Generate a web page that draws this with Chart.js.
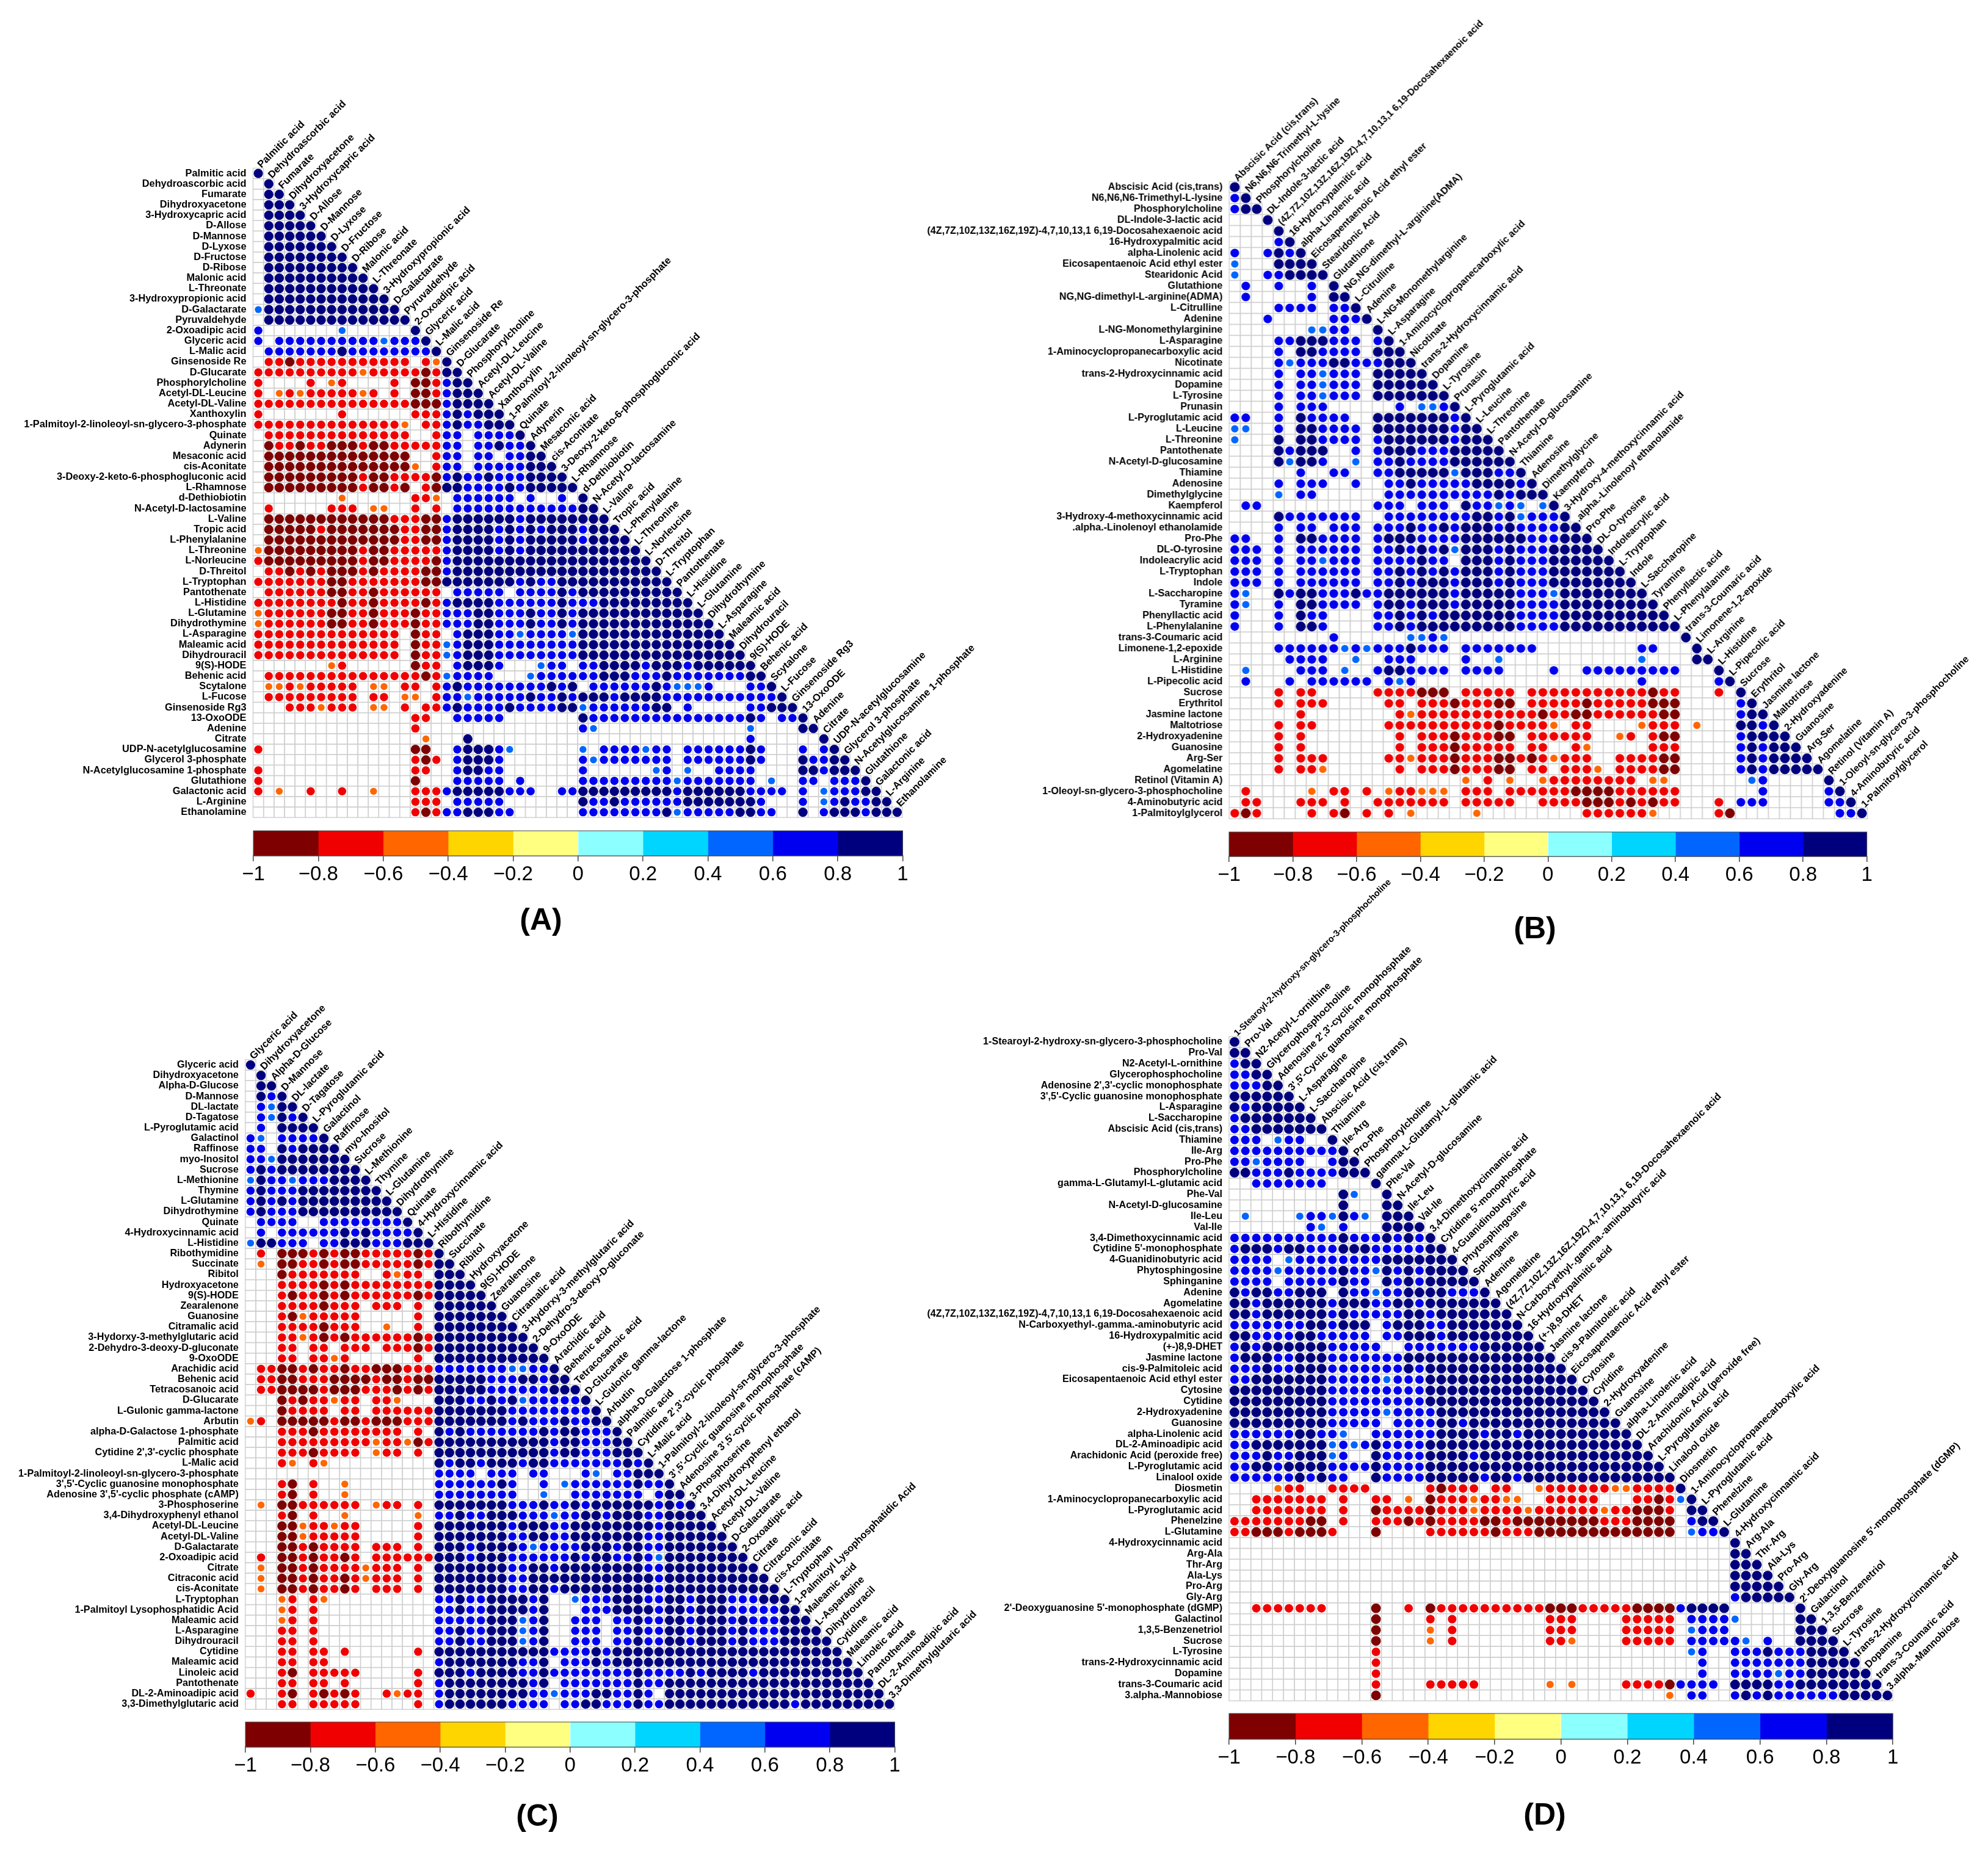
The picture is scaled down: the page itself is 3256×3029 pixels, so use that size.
<!DOCTYPE html>
<html><head><meta charset="utf-8">
<script src="https://cdn.jsdelivr.net/npm/chart.js@4/dist/chart.umd.min.js"></script>
<style>
html,body{margin:0;padding:0;background:#fff;width:3256px;height:3029px;overflow:hidden}
canvas{position:absolute;display:block}
.tag{position:absolute;font:bold 50px "Liberation Sans",Arial,sans-serif;color:#000;transform:translate(-50%,-50%);white-space:nowrap}
</style></head><body>
<script>
const labelsA=["Palmitic acid","Dehydroascorbic acid","Fumarate","Dihydroxyacetone","3-Hydroxycapric acid","D-Allose","D-Mannose","D-Lyxose","D-Fructose","D-Ribose","Malonic acid","L-Threonate","3-Hydroxypropionic acid","D-Galactarate","Pyruvaldehyde","2-Oxoadipic acid","Glyceric acid","L-Malic acid","Ginsenoside Re","D-Glucarate","Phosphorylcholine","Acetyl-DL-Leucine","Acetyl-DL-Valine","Xanthoxylin","1-Palmitoyl-2-linoleoyl-sn-glycero-3-phosphate","Quinate","Adynerin","Mesaconic acid","cis-Aconitate","3-Deoxy-2-keto-6-phosphogluconic acid","L-Rhamnose","d-Dethiobiotin","N-Acetyl-D-lactosamine","L-Valine","Tropic acid","L-Phenylalanine","L-Threonine","L-Norleucine","D-Threitol","L-Tryptophan","Pantothenate","L-Histidine","L-Glutamine","Dihydrothymine","L-Asparagine","Maleamic acid","Dihydrouracil","9(S)-HODE","Behenic acid","Scytalone","L-Fucose","Ginsenoside Rg3","13-OxoODE","Adenine","Citrate","UDP-N-acetylglucosamine","Glycerol 3-phosphate","N-Acetylglucosamine 1-phosphate","Glutathione","Galactonic acid","L-Arginine","Ethanolamine"];
const rowsA=["n",".n",".2n",".3n",".4n",".5n",".6n",".7n",".8n",".9n",".10n",".11n",".12n","l13n",".14n","b7.l6.n","b.10bl3bn",".7bn8bn",".2rd11r.ron","10ro5rdr2n","r4.r.or4.r.2drb2n","r.oro5ror.r.2drb3n","15r3db4n","r7.r6.3rbnb3n","14ro.2rbn2b3n",".14r2.r2b.4bn",".d2rd2r3dr2d5r2b.2bn2bn",".14d2.r2b.2b.2b2n",".14do.r2b.5b3n",".9dr2d4rdbn2bn3b4n",".9dr2drd.rd2n4bnb5n","8.o6.2ro.6b.b2.b.n",".r5.3r.2o2.r.r.12b2n",".12d3r2db6nb8n",".5dr7d2r2db4nbnbnb3nb3n",".13d2r2db4nbnb5nb4n","o9dr2d5rb4nbnb11n","r9dr2d4rdb19n",".2rdrdr3drd4r2db20n","7r2d7r2d7nbn2b11n",".6r2d2rd6r.5b.4bnb10n","8rd2rd4rdrb4n6bn3b9n","o6r2d2rd3rd2r3b2n3bn2bnb12n","o6r2d2rd3rd2r3b2n3bn2bnb13n","14r.d2r.b3n2bl4bl14n","14r.d2rlb3n8b15n","14r.d2rlb3n8b16n","7.or6.d2r.b3nb3.l2b.2b4nb3nb6n",".15rdrl4b3.l6b3n3bn7b2n",".2oro5r.2o.2r.rbn8bnbn.6bnb3lb3.2bn",".9r.2r.2o.r2bl5bn2bnb3nb4n11bn","3.3ro3r.2o.r.2rbn4bn4b2nl6b2n.b5.2b3n","15.2r2.5b7.n15bnb.2bn","15.r15.bl14.l4.2n","16.o3.n26.b6.n","r14.2d2.b3nbl6.l.4bl2b.6bnb3.b.bn","15.rdr.b3nb7.bl7b.6bnb3.n2b2n","r14.2r2.b2n2b7.b6.lb.l2.4b4.2nb3n","r14.d3.5b.b5.9bl7b.l2.2b.3bn","r.o2.r2.r2.o3.3rb5n3b2.2b9nb6n4b.b.l3b2n","15.3r.5b7.n2bn6b7nb3.b.lbn2b2n","15.rdr2b3n2b6.8bnl5b2n2b2.n.b3nb3n"];
const labelsB=["Abscisic Acid (cis,trans)","N6,N6,N6-Trimethyl-L-lysine","Phosphorylcholine","DL-Indole-3-lactic acid","(4Z,7Z,10Z,13Z,16Z,19Z)-4,7,10,13,1 6,19-Docosahexaenoic acid","16-Hydroxypalmitic acid","alpha-Linolenic acid","Eicosapentaenoic Acid ethyl ester","Stearidonic Acid","Glutathione","NG,NG-dimethyl-L-arginine(ADMA)","L-Citrulline","Adenine","L-NG-Monomethylarginine","L-Asparagine","1-Aminocyclopropanecarboxylic acid","Nicotinate","trans-2-Hydroxycinnamic acid","Dopamine","L-Tyrosine","Prunasin","L-Pyroglutamic acid","L-Leucine","L-Threonine","Pantothenate","N-Acetyl-D-glucosamine","Thiamine","Adenosine","Dimethylglycine","Kaempferol","3-Hydroxy-4-methoxycinnamic acid",".alpha.-Linolenoyl ethanolamide","Pro-Phe","DL-O-tyrosine","Indoleacrylic acid","L-Tryptophan","Indole","L-Saccharopine","Tyramine","Phenyllactic acid","L-Phenylalanine","trans-3-Coumaric acid","Limonene-1,2-epoxide","L-Arginine","L-Histidine","L-Pipecolic acid","Sucrose","Erythritol","Jasmine lactone","Maltotriose","2-Hydroxyadenine","Guanosine","Arg-Ser","Agomelatine","Retinol (Vitamin A)","1-Oleoyl-sn-glycero-3-phosphocholine","4-Aminobutyric acid","1-Palmitoylglycerol"];
const rowsB=["n","bn","b2n","3.n","4.n","4.bn","b2.bnbn","l3.4n","l2.2b4n",".b2.b2.b.n",".b5.b.2n","4.4b.2bn","3.b5.3bn","7.2l2b2.n","4.2b3n3b.bn","4.b.2n4b.3n","4.bl3b2n3b3n","4.b.2bl3b.5n","4.b.2bl3b.6n","4.b.2bl3b.7n","4.b.3b6.b.2lbn","2b2.b.n4b2.7nbn","2l2.b.2n4b.7nb2n","l3.n.2n4b.b6nb3n","4.nb3n2.b.b3n3b5n","4.nl2nb2.l.2bn4b6n","6.b2.2b2.2b5nl3n2bn","4.b.3b2.b2.2bn5b4nbn","4.l.2b6.10bnb3n",".2b10.3b.3b.n2blbl.ln","4.n7b2.8b2nbnl3bn","4.b.2b.3b.3bn2bnb3nbn4b2n","2b2.b.2n4b.b3n4b6n3b3n","3b.b.6b.2bnbnbnl3nbn3b5n","3b.b.2bl3b.4bn2b.3nbn3b6n","3b.b.6b.2bnbnbnb3nbn3b7n","3b.b.6b.2bnb3nb3nbn3b8n","bl2.nb2n3bn2b6nb5n3bl8n","bl2.b.2n4b.b2nb3nb5n4b9n","b3.b.n2b4.2bnbnb7n4b10n","b3.b.2nb4.2bnb9n4b11n","9.b6.2lbl21.n","4.6blbl3bn3b.7b9.2b3.n","5.4b2.l2.3b4.b2.l12.l4.2n",".l4.3b.l2.b2n4b.4b4.b2.9b3.n",".b3.b.6b.blb20.b6.bn","4.r.2r5.4r3d.5r.11rd2r3.r.n","4.r.3r5.2r.3rd3r2d.5rd5r3d5.bn","6.r8.ro11rd2r2d6r2d5.b2n","4.r.2r6.10rd4ro.2r4.o3r.o3.2nbn","4.r.r8.r.3rd3r2d.6r2.or.r2d5.b4n","4.r.r8.r.3rd5r.2r2.ro5.3r5.bnb3n","4.r.3r5.2ro3rd3r2drdro3r2.4r2d5.bnb4n","4.r.2ro6.r.3rd3r2d.2r.3ro.4r2d5.bnb5n","21.o.r.o2.o8r.2o7.lb5.n",".r5.o.2r.r.o2r3o.3r.6r4d6r7.b5.bn",".2r3.3r.r2.7r.5r2.4r3drdrd2r3.r.3b5.2bn","rdr4.r.rd.r.r.o5.o9.6ro5.rd9.2bn"];
const labelsC=["Glyceric acid","Dihydroxyacetone","Alpha-D-Glucose","D-Mannose","DL-lactate","D-Tagatose","L-Pyroglutamic acid","Galactinol","Raffinose","myo-Inositol","Sucrose","L-Methionine","Thymine","L-Glutamine","Dihydrothymine","Quinate","4-Hydroxycinnamic acid","L-Histidine","Ribothymidine","Succinate","Ribitol","Hydroxyacetone","9(S)-HODE","Zearalenone","Guanosine","Citramalic acid","3-Hydorxy-3-methylglutaric acid","2-Dehydro-3-deoxy-D-gluconate","9-OxoODE","Arachidic acid","Behenic acid","Tetracosanoic acid","D-Glucarate","L-Gulonic gamma-lactone","Arbutin","alpha-D-Galactose 1-phosphate","Palmitic acid","Cytidine 2',3'-cyclic phosphate","L-Malic acid","1-Palmitoyl-2-linoleoyl-sn-glycero-3-phosphate","3',5'-Cyclic guanosine monophosphate","Adenosine 3',5'-cyclic phosphate (cAMP)","3-Phosphoserine","3,4-Dihydroxyphenyl ethanol","Acetyl-DL-Leucine","Acetyl-DL-Valine","D-Galactarate","2-Oxoadipic acid","Citrate","Citraconic acid","cis-Aconitate","L-Tryptophan","1-Palmitoyl Lysophosphatidic Acid","Maleamic acid","L-Asparagine","Dihydrouracil","Cytidine","Maleamic acid","Linoleic acid","Pantothenate","DL-2-Aminoadipic acid","3,3-Dimethylglutaric acid"];
const rowsC=["n",".n",".2n",".nbn",".bl2n",".blnbn",".b.4n","bl.4bn","2b.nb4n","2bl7n","bnb8n","ln2bl3b4n","bn3b8n","bnbnb9n","bn3b10n",".4b2.8bn",".b.6bnbn4bn","l2n3b.2b3n3b3n",".r.3drdr2d5rdrn",".o.2d2rdr2d5rdr2n","3.d7r2.ro2r.3n","3.4rdrd8r4n","3.rd2rdrd6rdr5n","3.4rd3r.3r.r.6n","3.rdo5r5.r.7n","3.4rd3r2.o2.r.8n","3.2rordrd6rdr9n","3.2r.2r.3r.3rdr10n","3.2r.2ror6.r.11n",".2r2drd2rd2r3d3r7b2l2bn",".2r2d3r4dr2dr2d5n3b2nb2n",".2r4dr3d3rdrdr5n6b3n","3.drd2ro2r.2ro3.3n2bnbnl5bn","3.d4r.2r.6r7n8bn","or.5dr2dr3d3r7nbn3bn2b2n","3.3rd8r.r.nbn7bnb2n3bn","3.9ro2rodr11nb2n3b2n","3.3rd4r.o2r.r.11nb2n3b3n","3.ro.ro10.nb2nb3nb2n7bnbn","18.4b.3b.2b3.bl.2b3n","3.rd.r2.o8.6bnb2.b.l6bn2bn","3.rd.r2.o8.8b2.l2.7b.b2n",".o.2d6r.o2r.r.7n3bn2bnb6nbnbn","3.rd.r2.o6.o.2bn2b3n3bl2b2nb3n2b4n","3.2do2ro2r5.r.7nb3n2b8nb5n","3.2do5r5.r.7n2b2n2b7n2b6n","3.2drd4r.3r.r.3nb4nbl4b3nb2n2b7n",".r.2drd2rdr.6r3nb3n6bnb2n2bnbl8n",".o.2drd4ro3r.r.7n2b2nb8n2b9n",".o.2drd2rdro3r.r.7n2b12nb10n",".o.2drd2rdr.3r.r.7n2b2nb9nb11n","3.or.ro10.2bn2b4nbn2.l3b3n2b2nb3n3b3n","3.or.r11.2bn2b4nbn3.3b4nb2nb3n5b2n","3.or.r11.5b3nlbn2.3b.2bn2b2nb3nbn3b3n","3.2r.r11.2bn2b3nlbn2.3b.2bn2b2nb3nbn3b4n","3.2r.r11.2bn2b3nlbn2.3b.2bn2b2nb3nbn3b5n","3.2r.2r.r6.r.11n4bnb22n","3.2r.2r10.b7n2bn.3bnb23n","3.rd.5r5.r.3nb4n2bn8bn4bnb4nb10n","3.2r.2r.r6.r.b8nbn.7bn2b20n","r2.rd.rdrdr2.ro2r.b8n2bl3b2n2bnb.21n","3.2r.5r5.r.b6n4b.2b2n3bn2b12nb9n"];
const labelsD=["1-Stearoyl-2-hydroxy-sn-glycero-3-phosphocholine","Pro-Val","N2-Acetyl-L-ornithine","Glycerophosphocholine","Adenosine 2',3'-cyclic monophosphate","3',5'-Cyclic guanosine monophosphate","L-Asparagine","L-Saccharopine","Abscisic Acid (cis,trans)","Thiamine","Ile-Arg","Pro-Phe","Phosphorylcholine","gamma-L-Glutamyl-L-glutamic acid","Phe-Val","N-Acetyl-D-glucosamine","Ile-Leu","Val-Ile","3,4-Dimethoxycinnamic acid","Cytidine 5'-monophosphate","4-Guanidinobutyric acid","Phytosphingosine","Sphinganine","Adenine","Agomelatine","(4Z,7Z,10Z,13Z,16Z,19Z)-4,7,10,13,1 6,19-Docosahexaenoic acid","N-Carboxyethyl-.gamma.-aminobutyric acid","16-Hydroxypalmitic acid","(+-)8,9-DHET","Jasmine lactone","cis-9-Palmitoleic acid","Eicosapentaenoic Acid ethyl ester","Cytosine","Cytidine","2-Hydroxyadenine","Guanosine","alpha-Linolenic acid","DL-2-Aminoadipic acid","Arachidonic Acid (peroxide free)","L-Pyroglutamic acid","Linalool oxide","Diosmetin","1-Aminocyclopropanecarboxylic acid","L-Pyroglutamic acid","Phenelzine","L-Glutamine","4-Hydroxycinnamic acid","Arg-Ala","Thr-Arg","Ala-Lys","Pro-Arg","Gly-Arg","2'-Deoxyguanosine 5'-monophosphate (dGMP)","Galactinol","1,3,5-Benzenetriol","Sucrose","L-Tyrosine","trans-2-Hydroxycinnamic acid","Dopamine","trans-3-Coumaric acid","3.alpha.-Mannobiose"];
const rowsD=["n","2n","b2n","2b2n","3b2n","6n","nb5n","b7n","2b7n","3b.l2b2.n","10bn","2bl4b2.b2n","2n3bn4b3n","2.7b4.n","10.nl2.n","10.n3.2n",".l4.l2blnbl.3n","7.bl.b3.4n","10bn3bnbnbn","b3nb2n3b3n5b2n","4b.l8b7n","4bl5bn2blnbnb4n","4b.5bn2b.nbnb5n","nb2n2b3n.n2bl2b4n3bn","2nb6nb3n2b2nb7n","2nb6nbn5b2nb7n","7b2nb3n.b3n2b7n","2n4b2n5b.2b3nb8n","bnb6n5b2.7b6n","b3n2b3n7b14n","3bn2b3n7bnb13n","2b7n5bl3b14n","9n9b15n","9n9b16n","9n5bl4b16n","9n5b.4b2nb14n","6b2n2bl2.6b4nb2nb10n","2b7nlblbn4b20n","3bn2b3nlb2.n4b4nb16n","2b2nb4n4bn4b22n","6bnbn2b2.n4b5nb2nb14n","4.o2r2.4r5.rd3r.2r2.o6r2o4rn","2.7r.r2.2r.o.d3ro2r2o2.5r3.2rdrln","2.7r.r2.d4rd3ro4ro6ro2r3dr.2n","7r2d.r2.3rdrd4r2dr8d3r4d.b2n","2r3dr3dr3.d4.6rd3r13d.l2bn","46.n","46.2n","46.3n","46.4n","46.5n","46.b5n","2.7r4.d2.r.d10r3d5r4db4n6.n","13.d4.r.r8.3r4.5r.4bl5.2n","13.d4.o.r8.3r4.5r.l3b6.3n","13.d4.o.r8.2ro4.5r.5bl.b2.4n","13.r28.lb2.3bn3b4n","13.r29.b2.7b5n","13.r29.b2.4bl2b6n","13.r4.5r6.o.o4.4rd4b.4n2b8n","13.d26.o.2b2.bnbn6b5n"];
const binValues={n:0.9,b:0.7,l:0.5,o:-0.5,r:-0.7,d:-0.9};
const binEdges=[-1,-0.8,-0.6,-0.4,-0.2,0,0.2,0.4,0.6,0.8,1];
const binColors=["#7F0000","#F00000","#FF6600","#FFD500","#FFFF80","#8CFFFF","#00D5FF","#0066FF","#0000F0","#00007F"];
const tickLabels=["\u22121","\u22120.8","\u22120.6","\u22120.4","\u22120.2","0","0.2","0.4","0.6","0.8","1"];
const FONT='"Liberation Sans",Arial,sans-serif';
function colorOf(v){for(let i=0;i<binColors.length;i++){if(v>=binEdges[i]&&v<binEdges[i+1])return binColors[i];}return binColors[9];}
function decode(rows){const bad=[];const pts=[];rows.forEach((s,i)=>{let j=0;const re=/(\d*)([.nblord])/g;let m;while((m=re.exec(s))){const c=m[1]?+m[1]:1;for(let k=0;k<c;k++){if(m[2]!=='.')pts.push({x:j,y:i,v:binValues[m[2]]});j++;}}if(j!==i+1)bad.push(i+':'+j);});return {pts,bad};}
const panels=[
 {tag:"(A)",labels:labelsA,rows:rowsA,L:414.5,R:1478,T:275.5,B:1340,cbT:1361,cbB:1402,tx:886,ty:1506,fs:16.35,tf:16.5,small:{}},
 {tag:"(B)",labels:labelsB,rows:rowsB,L:2013.4,R:3058,T:297.5,B:1342,cbT:1363,cbB:1403,tx:2514,ty:1520,fs:16.15,tf:16,small:{"(4Z,7Z,10Z,13Z,16Z,19Z)-4,7,10,13,1 6,19-Docosahexaenoic acid":15.6}},
 {tag:"(C)",labels:labelsC,rows:rowsC,L:401.8,R:1465.3,T:1736,B:2800.5,cbT:2821,cbB:2862,tx:880,ty:2974,fs:16.2,tf:16.5,small:{}},
 {tag:"(D)",labels:labelsD,rows:rowsD,L:2012.8,R:3100,T:1698.3,B:2786.4,cbT:2807,cbB:2849,tx:2530,ty:2972,fs:16.15,tf:16.4,small:{"1-Stearoyl-2-hydroxy-sn-glycero-3-phosphocholine":14.7}}
];
const errs=[];
function mk(left,top,w,h){const c=document.createElement('canvas');c.width=w;c.height=h;c.style.left=left+'px';c.style.top=top+'px';c.style.width=w+'px';c.style.height=h+'px';document.body.appendChild(c);return c;}
panels.forEach(p=>{
 const n=p.labels.length,d=decode(p.rows);
 if(d.bad.length||p.rows.length!==n)errs.push(p.tag+' n='+p.rows.length+'/'+n+' bad '+d.bad.join(','));
 const cw=(p.R-p.L)/n,ch=(p.B-p.T)/n;
 const cTop=Math.max(0,p.T-420);
 const canvasLeft=Math.max(0,p.L-560);
 const cv=mk(canvasLeft,cTop,Math.min(3256-canvasLeft,Math.ceil(p.R-canvasLeft+240)),Math.ceil(p.B-cTop)+20);
 const triPlugin={id:'tri',
  beforeDatasetsDraw(chart){const g=chart.ctx,xs=chart.scales.x,ys=chart.scales.y;g.save();g.strokeStyle='#CFCFCF';g.lineWidth=1.4;
   for(let i=0;i<n;i++){for(let j=0;j<=i;j++){const x0=xs.getPixelForValue(j-0.5),x1=xs.getPixelForValue(j+0.5),y0=ys.getPixelForValue(i-0.5),y1=ys.getPixelForValue(i+0.5);g.strokeRect(x0,y0,x1-x0,y1-y0);}}
   g.restore();},
  afterDraw(chart){const g=chart.ctx,xs=chart.scales.x,ys=chart.scales.y;g.save();g.fillStyle='#000';g.textAlign='left';g.textBaseline='middle';
   p.labels.forEach((t,j)=>{const x=xs.getPixelForValue(j),y=ys.getPixelForValue(j-0.5);g.save();
    g.font='bold '+(p.small[t]||p.tf)+'px '+FONT;
    g.translate(x+2,y-3);g.rotate(-Math.PI/4);g.fillText(t,0,0);g.restore();});
   g.restore();}
 };
 new Chart(cv,{type:'scatter',plugins:[triPlugin],
  data:{datasets:[{data:d.pts,clip:false,pointBorderWidth:0,
    pointBackgroundColor:c=>colorOf(c.raw.v),
    pointRadius:c=>0.47*Math.min(cw,ch)*Math.sqrt(Math.abs(c.raw.v)),pointHoverRadius:0}]},
  options:{responsive:false,animation:false,devicePixelRatio:1,events:[],
   layout:{padding:{left:0,right:cv.width-(p.R-canvasLeft),top:p.T-cTop,bottom:20}},
   plugins:{legend:{display:false},title:{display:false},tooltip:{enabled:false}},
   scales:{
    x:{type:'linear',display:false,min:-0.5,max:n-0.5},
    y:{type:'linear',reverse:true,min:-0.5,max:n-0.5,position:'left',
     afterFit:s=>{s.width=p.L-canvasLeft;},
     afterBuildTicks:s=>{s.ticks=p.labels.map((_,i)=>({value:i}));},
     grid:{display:false,drawTicks:false},border:{display:false},
     ticks:{autoSkip:false,maxRotation:0,minRotation:0,padding:11,color:'#000',font:{family:FONT,size:p.fs,weight:'bold'},callback:v=>p.labels[v]}}
   }}});
 const pad=60;
 const cb=mk(p.L-pad,p.cbT-2,Math.ceil(p.R-p.L)+2*pad,p.cbB-p.cbT+72);
 const outline={id:'outline',afterDatasetsDraw(chart){const a=chart.chartArea,g=chart.ctx;g.save();g.strokeStyle='#444';g.lineWidth=1;g.strokeRect(a.left,a.top,a.right-a.left,a.bottom-a.top);g.restore();}};
 new Chart(cb,{type:'bar',plugins:[outline],
  data:{labels:['scale'],datasets:binColors.map((col,i)=>({data:[[binEdges[i],binEdges[i+1]]],backgroundColor:col,borderWidth:0,grouped:false,barPercentage:1,categoryPercentage:1}))},
  options:{indexAxis:'y',responsive:false,animation:false,devicePixelRatio:1,events:[],
   layout:{padding:{left:pad,right:cb.width-pad-(p.R-p.L),top:2,bottom:0}},
   plugins:{legend:{display:false},tooltip:{enabled:false}},
   scales:{
    y:{display:false},
    x:{type:'linear',min:-1,max:1,position:'bottom',
     afterFit:s=>{s.height=70;},
     afterBuildTicks:s=>{s.ticks=binEdges.map(v=>({value:v}));},
     border:{color:'#444',width:1.5},
     grid:{drawOnChartArea:false,color:'#444',lineWidth:1.5,tickLength:9},
     ticks:{autoSkip:false,maxRotation:0,minRotation:0,padding:2,color:'#000',font:{family:FONT,size:33},callback:(v)=>tickLabels[binEdges.findIndex(e=>Math.abs(e-v)<1e-6)]}}
   }}});
 const t=document.createElement('div');t.className='tag';t.textContent=p.tag;t.style.left=p.tx+'px';t.style.top=p.ty+'px';document.body.appendChild(t);
});
if(errs.length)throw new Error(errs.join(' | '));
</script>
</body></html>
